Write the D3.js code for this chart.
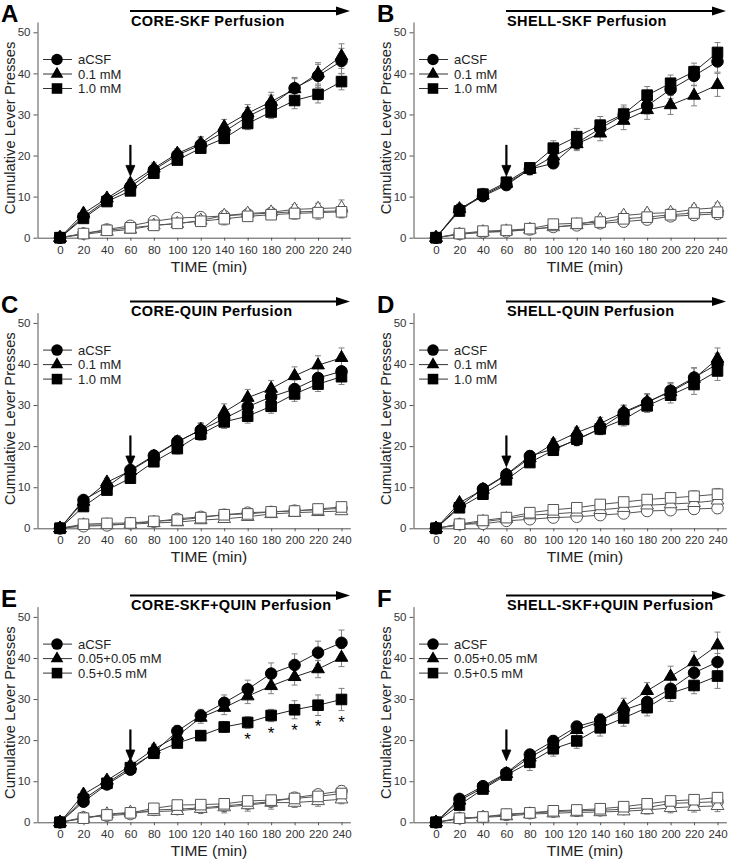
<!DOCTYPE html>
<html><head><meta charset="utf-8">
<script src="https://cdn.jsdelivr.net/npm/d3@7"></script>
<style>
html,body{margin:0;padding:0;background:#fff;}
svg{display:block;font-family:"Liberation Sans",Arial,sans-serif;}
</style></head>
<body>
<svg id="chart" width="732" height="863"></svg>
<script>
// ---------- data ----------
const times = [0,20,40,60,80,100,120,140,160,180,200,220,240];
const xTicks = [0,20,40,60,80,100,120,140,160,180,200,220,240];
const yTicks = [0,10,20,30,40,50];
const panelLetters = ["A","B","C","D","E","F"];
const panelTitles = ["CORE-SKF Perfusion","SHELL-SKF Perfusion","CORE-QUIN Perfusion","SHELL-QUIN Perfusion","CORE-SKF+QUIN Perfusion","SHELL-SKF+QUIN Perfusion"];
const legendSingle = ["aCSF","0.1 mM","1.0 mM"];
const legendCombo = ["aCSF","0.05+0.05 mM","0.5+0.5 mM"];

// Panel A
const A_aCSF = [0,5.1,9.2,12.4,16.5,20.1,22.6,25.8,29.5,32.3,36.4,39.4,43.0];
const A_low  = [0,5.9,9.6,13.2,16.9,20.5,23.0,27.0,30.3,33.1,36.2,40.0,44.2];
const A_high = [0,4.7,8.8,11.4,15.7,18.9,21.8,24.2,27.8,30.6,33.4,34.9,38.0];
const A_aCSF_se = [0,0.7,0.9,1.0,1.2,1.4,1.7,1.9,2.2,2.4,2.6,2.8,3.1];
const A_low_se  = [0,0.8,0.9,1.0,1.3,1.2,1.6,1.8,2.1,2.3,2.5,2.6,3.0];
const A_high_se = [0,0.6,0.8,0.9,1.0,1.0,1.1,1.3,1.5,1.6,2.0,2.1,2.0];
const A_aCSF_o = [0,1.0,2.0,2.9,4.0,4.8,5.0,5.3,5.7,6.0,6.3,6.4,6.5];
const A_low_o  = [0,0.8,1.5,2.0,3.0,3.4,4.2,5.4,5.9,6.2,6.9,7.1,7.3];
const A_high_o = [0,1.0,1.8,2.4,3.0,3.5,4.0,4.6,5.2,5.6,5.9,6.1,6.3];
const A_aCSF_o_se = [0,0.3,0.4,0.5,0.6,0.6,0.7,0.8,0.8,0.9,1.0,1.1,1.2];
const A_low_o_se  = [0,0.3,0.4,0.5,0.6,0.7,0.8,0.9,0.9,1.0,1.2,1.3,1.9];
const A_high_o_se = [0,0.3,0.4,0.5,0.5,0.6,0.7,1.5,0.8,0.9,1.4,1.6,1.5];

// Panel B
const B_aCSF = [0,6.8,10.1,12.8,16.7,18.1,23.0,26.6,29.9,32.1,36.1,39.4,42.9];
const B_low  = [0,7.0,10.3,13.2,16.6,19.8,22.8,25.4,28.5,31.1,32.3,34.6,37.2];
const B_high = [0,6.5,10.6,13.5,17.0,21.8,24.6,27.4,30.1,34.7,37.6,40.4,45.1];
const B_aCSF_se = [0,1.2,1.2,1.0,1.2,1.0,1.5,1.7,1.9,2.0,2.3,2.4,2.6];
const B_low_se  = [0,1.2,1.2,1.1,1.3,1.4,1.6,1.8,2.2,2.3,2.3,2.5,2.8];
const B_high_se = [0,1.3,1.4,1.2,1.1,1.8,2.0,2.1,2.2,2.1,2.0,2.1,2.4];
const B_aCSF_o = [0,0.9,1.3,1.5,2.0,2.6,3.0,3.5,3.9,4.4,5.2,5.5,5.8];
const B_low_o  = [0,0.8,1.4,1.6,2.0,2.6,3.1,4.4,5.4,5.9,6.1,6.9,7.3];
const B_high_o = [0,1.0,1.6,1.8,2.2,3.3,3.5,3.8,4.6,5.0,5.6,6.0,6.2];
const B_aCSF_o_se = [0,0.3,0.4,0.4,0.5,0.5,0.6,0.7,0.8,0.9,1.0,1.1,1.2];
const B_low_o_se  = [0,0.3,0.4,0.4,0.5,0.5,0.6,0.7,0.8,0.9,1.0,1.1,1.2];
const B_high_o_se = [0,0.3,0.4,0.4,0.5,0.6,0.6,0.7,0.8,0.9,1.0,1.1,1.2];

// Panel C
const C_aCSF = [0,6.9,10.1,14.2,17.7,21.1,23.9,26.7,29.6,32.0,33.9,36.6,38.2];
const C_low  = [0,6.5,11.2,14.0,17.5,21.0,24.0,28.3,31.8,34.0,37.1,39.7,41.5];
const C_high = [0,5.3,9.3,12.2,16.2,19.4,22.9,25.9,27.3,29.7,32.7,35.1,36.9];
const C_aCSF_se = [0,0.9,1.0,1.1,1.2,1.4,1.6,1.8,1.9,2.0,2.2,2.3,2.4];
const C_low_se  = [0,0.9,1.0,1.1,1.2,1.5,1.7,2.0,2.0,2.0,2.2,2.3,2.4];
const C_high_se = [0,0.8,0.9,1.0,1.1,1.3,1.5,1.6,1.7,1.7,1.8,1.8,1.9];
const C_aCSF_o = [0,0.5,0.7,1.2,1.6,2.3,2.8,3.3,3.8,4.0,4.3,4.5,4.9];
const C_low_o  = [0,0.8,0.8,1.0,1.3,1.5,2.0,2.3,2.8,3.5,3.8,4.0,4.2];
const C_high_o = [0,1.0,1.2,1.3,1.7,2.0,2.6,3.3,3.5,4.0,4.2,4.7,5.2];
const C_aCSF_o_se = [0,0.2,0.3,0.3,0.4,0.5,0.5,0.6,0.6,0.7,0.8,0.8,0.9];
const C_low_o_se  = [0,0.2,0.3,0.3,0.4,0.4,0.5,0.5,0.6,0.7,0.7,0.8,0.8];
const C_high_o_se = [0,0.2,0.3,0.3,0.4,0.5,0.5,0.6,0.6,0.7,0.8,0.8,0.9];

// Panel D
const D_aCSF = [0,5.4,9.6,13.1,17.6,19.3,21.5,24.3,28.1,30.6,33.5,36.7,40.0];
const D_low  = [0,6.2,9.4,13.0,17.1,20.6,23.3,25.5,28.3,30.8,33.2,36.4,41.3];
const D_high = [0,5.0,8.3,11.8,16.0,19.0,21.7,24.2,26.5,29.8,32.4,35.0,38.3];
const D_aCSF_se = [0,0.7,0.8,1.0,1.2,1.3,1.4,1.5,1.7,1.9,2.0,2.4,2.6];
const D_low_se  = [0,0.7,0.8,1.0,1.2,1.2,1.3,1.5,1.7,2.0,2.0,2.6,2.6];
const D_high_se = [0,0.6,0.7,0.9,1.0,1.1,1.2,1.4,1.6,1.6,1.9,2.4,2.3];
const D_aCSF_o = [0,1.0,1.1,1.8,2.2,2.6,2.8,3.2,3.6,4.2,4.4,4.7,4.9];
const D_low_o  = [0,0.8,1.6,2.3,3.2,3.5,3.9,4.5,5.0,5.6,5.9,6.2,6.8];
const D_high_o = [0,1.0,1.9,2.6,3.8,4.5,5.0,5.8,6.4,7.0,7.4,7.8,8.3];
const D_aCSF_o_se = [0,0.3,0.4,0.4,0.5,0.6,0.7,0.8,0.9,1.0,1.1,1.2,1.3];
const D_low_o_se  = [0,0.3,0.4,0.5,0.6,0.7,0.8,0.9,1.0,1.1,1.2,1.3,1.4];
const D_high_o_se = [0,0.3,0.4,0.5,0.6,0.7,0.8,0.9,1.0,1.1,1.2,1.3,1.4];

// Panel E
const E_aCSF = [0,5.0,9.2,12.8,17.0,22.2,26.0,29.1,32.4,36.2,38.3,41.3,43.7];
const E_low  = [0,6.8,10.2,13.8,17.8,21.0,25.5,27.9,30.7,33.2,35.4,37.3,40.1];
const E_high = [0,5.6,9.5,13.3,16.8,19.3,21.1,23.2,24.3,26.0,27.4,28.5,29.9];
const E_aCSF_se = [0,1.0,1.0,1.1,1.3,1.4,1.5,1.9,2.2,2.6,2.7,2.8,3.1];
const E_low_se  = [0,1.0,1.0,1.1,1.2,1.3,1.4,1.7,1.8,1.9,2.0,2.1,2.2];
const E_high_se = [0,0.9,0.9,1.0,1.0,1.1,1.2,1.3,1.4,1.5,2.2,2.5,2.7];
const E_aCSF_o = [0,1.2,1.6,2.0,3.0,3.2,3.5,4.0,4.5,5.0,6.0,6.8,7.6];
const E_low_o  = [0,1.0,2.0,2.4,2.6,2.8,3.3,3.7,4.2,4.8,4.8,5.2,5.6];
const E_high_o = [0,1.0,1.8,2.3,3.4,4.2,4.3,4.5,5.2,5.4,5.8,6.3,7.0];
const E_aCSF_o_se = [0,0.3,0.4,0.5,0.6,0.7,0.8,0.9,1.0,1.1,1.1,1.2,1.3];
const E_low_o_se  = [0,0.3,0.4,0.5,0.6,0.7,0.8,1.4,1.5,1.6,1.2,1.3,1.1];
const E_high_o_se = [0,0.3,0.4,0.5,0.6,0.7,0.8,0.9,1.0,1.1,1.2,1.3,1.4];
const E_sigTimes = [160,180,200,220,240];

// Panel F
const F_aCSF = [0,5.7,8.8,12.0,16.5,19.8,23.3,24.9,27.3,29.3,32.5,36.4,39.0];
const F_low  = [0,5.3,8.4,11.8,15.8,19.0,22.5,24.5,28.2,32.0,35.5,39.0,43.1];
const F_high = [0,4.2,8.1,11.5,14.6,17.9,19.8,23.0,25.4,27.9,31.4,33.3,35.6];
const F_aCSF_se = [0,0.8,0.9,1.0,1.2,1.3,1.3,1.6,1.8,2.0,2.1,2.2,2.1];
const F_low_se  = [0,0.8,0.8,0.9,1.1,1.3,1.5,1.7,2.0,2.0,2.5,2.6,3.2];
const F_high_se = [0,0.8,0.9,1.0,2.0,1.8,1.8,2.0,2.0,2.0,2.0,2.0,3.0];
const F_aCSF_o = [0,1.0,1.3,1.8,2.2,2.6,2.8,2.9,3.2,3.6,4.6,4.8,5.0];
const F_low_o  = [0,0.8,1.2,1.5,2.0,2.2,2.4,2.5,2.7,3.0,3.5,3.8,4.0];
const F_high_o = [0,1.0,1.3,2.0,2.3,2.8,3.0,3.3,3.8,4.5,5.2,5.5,6.0];
const F_aCSF_o_se = [0,0.3,0.4,0.5,0.5,0.6,0.7,0.7,0.8,0.9,1.0,1.1,1.2];
const F_low_o_se  = [0,0.3,0.4,0.5,0.5,0.6,0.7,0.7,0.8,1.0,1.2,1.3,1.4];
const F_high_o_se = [0,0.3,0.4,0.5,0.5,0.6,0.7,0.7,0.8,0.9,1.0,1.1,1.2];

// ---------- build ----------
const panels = [
  {filled:[[A_aCSF,A_aCSF_se],[A_low,A_low_se],[A_high,A_high_se]], open:[[A_aCSF_o,A_aCSF_o_se],[A_low_o,A_low_o_se],[A_high_o,A_high_o_se]], legend:legendSingle, sig:[]},
  {filled:[[B_aCSF,B_aCSF_se],[B_low,B_low_se],[B_high,B_high_se]], open:[[B_aCSF_o,B_aCSF_o_se],[B_low_o,B_low_o_se],[B_high_o,B_high_o_se]], legend:legendSingle, sig:[]},
  {filled:[[C_aCSF,C_aCSF_se],[C_low,C_low_se],[C_high,C_high_se]], open:[[C_aCSF_o,C_aCSF_o_se],[C_low_o,C_low_o_se],[C_high_o,C_high_o_se]], legend:legendSingle, sig:[]},
  {filled:[[D_aCSF,D_aCSF_se],[D_low,D_low_se],[D_high,D_high_se]], open:[[D_aCSF_o,D_aCSF_o_se],[D_low_o,D_low_o_se],[D_high_o,D_high_o_se]], legend:legendSingle, sig:[]},
  {filled:[[E_aCSF,E_aCSF_se],[E_low,E_low_se],[E_high,E_high_se]], open:[[E_aCSF_o,E_aCSF_o_se],[E_low_o,E_low_o_se],[E_high_o,E_high_o_se]], legend:legendCombo, sig:E_sigTimes},
  {filled:[[F_aCSF,F_aCSF_se],[F_low,F_low_se],[F_high,F_high_se]], open:[[F_aCSF_o,F_aCSF_o_se],[F_low_o,F_low_o_se],[F_high_o,F_high_o_se]], legend:legendCombo, sig:[]}
];

const svg = d3.select("#chart");
const colOff = [0, 376];
const rowOff = [0, 290.6, 584.6];
const shapes = ["circle","triangle","square"];

function symPath(shape){
  if (shape==="circle") return d3.symbol(d3.symbolCircle, 104)();
  if (shape==="triangle") return d3.symbol(d3.symbolTriangle, 70)();
  return d3.symbol(d3.symbolSquare, 112)();
}

panels.forEach((p, i) => {
  const dx = colOff[i % 2], dy = rowOff[Math.floor(i / 2)];
  const g = svg.append("g").attr("transform", `translate(${dx},${dy})`);
  const x = d3.scaleLinear().domain([-19.2, 247.5]).range([37.5, 350.3]);
  const y = d3.scaleLinear().domain([0, 52.5]).range([237.7, 237.7 - 52.5 * 4.108]);

  // axes
  const ya = g.append("g").attr("transform", `translate(${x(-19.2)},0)`)
    .call(d3.axisLeft(y).tickValues(yTicks).tickSizeInner(4).tickSizeOuter(0).tickPadding(3));
  const xa = g.append("g").attr("transform", `translate(0,${y(0)})`)
    .call(d3.axisBottom(x).tickValues(xTicks).tickSizeInner(3).tickSizeOuter(0).tickPadding(5));
  [ya, xa].forEach(a => {
    a.selectAll("path.domain").attr("stroke", "#555");
    a.selectAll("line").attr("stroke", "#555");
    a.selectAll("text").attr("fill", "#333").style("font-size", "11.5px");
  });

  // axis titles
  g.append("text").attr("transform", `translate(${15},${128}) rotate(-90)`)
    .attr("text-anchor", "middle").style("font-size", "14.8px").attr("fill", "#222")
    .text("Cumulative Lever Presses");
  g.append("text").attr("x", x(127)).attr("y", y(0) + 34).attr("text-anchor", "middle")
    .style("font-size", "15.5px").attr("fill", "#222").text("TIME (min)");

  // panel letter
  g.append("text").attr("x", 1).attr("y", 22).style("font-size", "24px").style("font-weight", "bold")
    .attr("fill", "#000").text(panelLetters[i]);

  // perfusion arrow + title
  g.append("line").attr("x1", 130).attr("x2", 340).attr("y1", 11).attr("y2", 11)
    .attr("stroke", "#000").attr("stroke-width", 2);
  g.append("path").attr("d", "M336,6.5 L350,11 L336,15.5 Z").attr("fill", "#000");
  g.append("text").attr("x", 131).attr("y", 25.5).style("font-size", "14.5px").style("font-weight", "bold")
    .style("letter-spacing", "0.4px").attr("fill", "#000").text(panelTitles[i]);

  // injection arrow at t=60
  g.append("line").attr("x1", x(60)).attr("x2", x(60)).attr("y1", y(22.6)).attr("y2", y(17.5))
    .attr("stroke", "#000").attr("stroke-width", 2.2);
  g.append("path").attr("d", `M${x(60)-4.5},${y(17.6)} L${x(60)},${y(15.0)} L${x(60)+4.5},${y(17.6)} Z`)
    .attr("fill", "#000").attr("stroke", "#000").attr("stroke-width", 0.8);

  const allSeries = [];
  p.open.forEach((s, k) => allSeries.push({vals: s[0], se: s[1], shape: shapes[k], filled: false}));
  p.filled.forEach((s, k) => allSeries.push({vals: s[0], se: s[1], shape: shapes[k], filled: true}));

  // error bars
  allSeries.forEach(s => {
    const eg = g.append("g").attr("stroke", "#808080").attr("stroke-width", 1);
    times.forEach((t, j) => {
      const v = s.vals[j], e = s.se[j];
      if (!e) return;
      const cx = x(t), y1 = y(v - e), y2 = y(v + e);
      eg.append("line").attr("x1", cx).attr("x2", cx).attr("y1", y1).attr("y2", y2);
      eg.append("line").attr("x1", cx - 3).attr("x2", cx + 3).attr("y1", y1).attr("y2", y1);
      eg.append("line").attr("x1", cx - 3).attr("x2", cx + 3).attr("y1", y2).attr("y2", y2);
    });
  });

  // lines
  const line = d3.line().x((d, j) => x(times[j])).y(d => y(d));
  allSeries.forEach(s => {
    g.append("path").datum(s.vals).attr("d", line).attr("fill", "none")
      .attr("stroke", s.filled ? "#222" : "#555").attr("stroke-width", 1);
  });

  // markers
  allSeries.forEach(s => {
    g.append("g").selectAll("path").data(s.vals).join("path")
      .attr("d", symPath(s.shape))
      .attr("transform", (d, j) => `translate(${x(times[j])},${y(d)})`)
      .attr("fill", s.filled ? "#000" : "#fff")
      .attr("stroke", s.filled ? "#000" : "#555").attr("stroke-width", 1);
  });

  // significance asterisks
  const hi = p.filled[2];
  p.sig.forEach(t => {
    const j = times.indexOf(t);
    g.append("text").attr("x", x(t)).attr("y", y(hi[0][j] - hi[1][j]) + 17)
      .attr("text-anchor", "middle").style("font-size", "17px").attr("fill", "#000").text("*");
  });

  // legend
  const lg = g.append("g");
  const rows = [59.5, 74, 88.5];
  p.legend.forEach((lab, k) => {
    lg.append("line").attr("x1", 43).attr("x2", 72).attr("y1", rows[k]).attr("y2", rows[k])
      .attr("stroke", "#333").attr("stroke-width", 1);
    lg.append("path").attr("d", symPath(shapes[k])).attr("transform", `translate(57,${rows[k]})`)
      .attr("fill", "#000");
    lg.append("text").attr("x", 78).attr("y", rows[k] + 4.7).style("font-size", "13px")
      .attr("fill", "#222").text(lab);
  });
});
</script>
</body></html>
